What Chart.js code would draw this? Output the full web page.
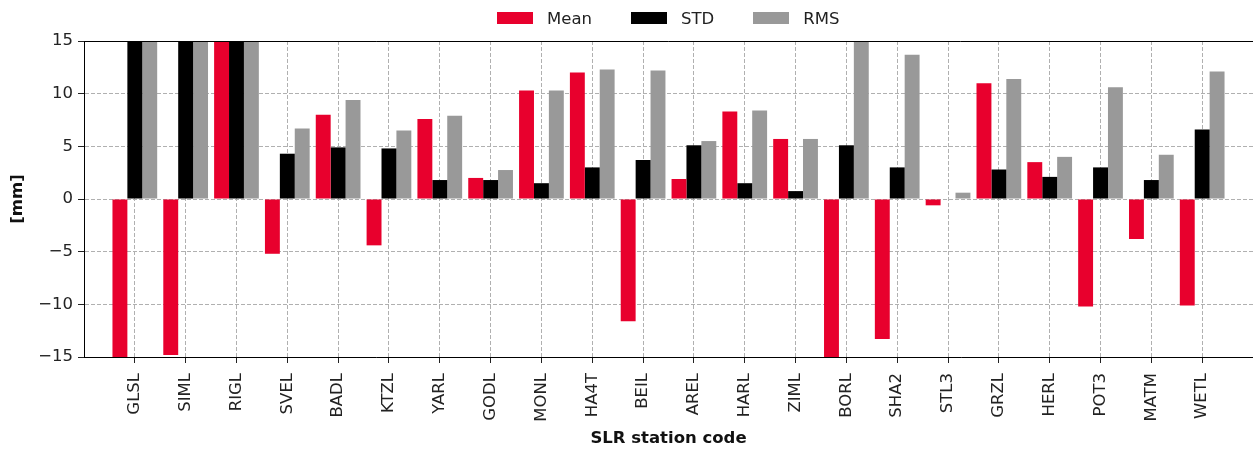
<!DOCTYPE html>
<html>
<head>
<meta charset="utf-8">
<script src="https://cdn.jsdelivr.net/npm/chart.js@4.4.0/dist/chart.umd.min.js"></script>
<style>
    body { margin: 0; background: #fff; }
    #wrap { position: relative; width: 1253px; height: 450px; }
    #legend { position: absolute; left: 497px; top: 8px; display: flex; font: 16.5px 'DejaVu Sans'; color: #222; }
    .item { display: flex; align-items: center; height: 20px; margin-right: 39px; }
    .box { width: 36px; height: 12px; margin-right: 14px; }
</style>
</head>
<body>
<div id="wrap">
    <canvas id="slr-chart" width="1253" height="450"></canvas>
    <div id="legend"></div>
</div>
<script>
var stations = ['GLSL', 'SIML', 'RIGL', 'SVEL', 'BADL', 'KTZL', 'YARL', 'GODL', 'MONL', 'HA4T', 'BEIL',
                'AREL', 'HARL', 'ZIML', 'BORL', 'SHA2', 'STL3', 'GRZL', 'HERL', 'POT3', 'MATM', 'WETL'];
var meanValues = [-15, -14.8, 15, -5.2, 8.0, -4.4, 7.6, 2.0, 10.3, 12.0, -11.6,
                  1.9, 8.3, 5.7, -15, -13.3, -0.6, 11.0, 3.5, -10.2, -3.8, -10.1];
var stdValues = [15, 15, 15, 4.3, 4.9, 4.8, 1.8, 1.8, 1.5, 3.0, 3.7,
                 5.1, 1.5, 0.75, 5.1, 3.0, 0, 2.8, 2.1, 3.0, 1.8, 6.6];
var rmsValues = [15, 15, 15, 6.7, 9.4, 6.5, 7.9, 2.75, 10.3, 12.3, 12.2,
                 5.5, 8.4, 5.7, 15, 13.7, 0.6, 11.4, 4.0, 10.6, 4.2, 12.1];
var yTicks = [-15, -10, -5, 0, 5, 10, 15];
var seriesNames = ['Mean', 'STD', 'RMS'];
var seriesColors = ['#e8002d', '#000000', '#999999'];

// one empty slot on each side so the axis runs half a group past the first/last station
function padded(arr, fill) {
    return [fill].concat(arr, [fill]);
}

var legend = document.getElementById('legend');
seriesNames.forEach(function(name, i) {
    var item = document.createElement('div');
    item.className = 'item';
    var box = document.createElement('span');
    box.className = 'box';
    box.style.background = seriesColors[i];
    var txt = document.createElement('span');
    txt.textContent = name;
    item.appendChild(box);
    item.appendChild(txt);
    legend.appendChild(item);
});

var frameLines = {
    id: 'frameLines',
    afterDatasetsDraw: function(chart) {
        var a = chart.chartArea, ctx = chart.ctx;
        ctx.save();
        ctx.strokeStyle = '#000';
        ctx.lineWidth = 1;
        ctx.beginPath();
        ctx.moveTo(a.left, a.top + 0.5);
        ctx.lineTo(a.right, a.top + 0.5);
        ctx.stroke();
        ctx.restore();
    }
};

var tickFont = { family: 'DejaVu Sans', size: 16.5 };
var titleFont = { family: 'DejaVu Sans', size: 16.5, weight: 'bold' };

new Chart(document.getElementById('slr-chart'), {
    type: 'bar',
    data: {
        labels: padded(stations, ''),
        datasets: [
            { label: seriesNames[0], data: padded(meanValues, null), backgroundColor: seriesColors[0] },
            { label: seriesNames[1], data: padded(stdValues, null), backgroundColor: seriesColors[1] },
            { label: seriesNames[2], data: padded(rmsValues, null), backgroundColor: seriesColors[2] }
        ]
    },
    options: {
        responsive: false,
        animation: false,
        layout: { padding: { top: 41, left: 0, right: 0, bottom: 0 } },
        datasets: {
            bar: { categoryPercentage: 0.88, barPercentage: 1.0, borderWidth: 0 }
        },
        plugins: {
            legend: { display: false },
            tooltip: { enabled: false }
        },
        scales: {
            x: {
                offset: false,
                grid: {
                    offset: false,
                    color: '#b0b0b0',
                    lineWidth: 1,
                    // no tick marks under the empty end slots
                    tickColor: function(ctx) {
                        var last = stations.length + 1;
                        return (ctx.index === 0 || ctx.index === last) ? 'rgba(0,0,0,0)' : '#222';
                    },
                    tickLength: 6,
                    tickBorderDash: []
                },
                border: { display: true, color: '#000', width: 1, dash: [4, 2] },
                ticks: {
                    font: tickFont,
                    color: '#222',
                    maxRotation: 90,
                    minRotation: 90,
                    autoSkip: false,
                    padding: 10
                },
                title: {
                    display: true,
                    text: 'SLR station code',
                    font: titleFont,
                    color: '#111',
                    padding: { top: 2, bottom: 1 }
                },
                afterFit: function(scale) {
                    scale.height = 93;
                    scale.paddingLeft = 0;
                    scale.paddingRight = 0;
                }
            },
            y: {
                min: -15,
                max: 15,
                afterBuildTicks: function(scale) {
                    scale.ticks = yTicks.map(function(v) { return { value: v }; });
                },
                grid: {
                    color: '#b0b0b0',
                    lineWidth: 1,
                    tickColor: '#222',
                    tickLength: 6,
                    tickBorderDash: []
                },
                border: { display: true, color: '#000', width: 1, dash: [4, 2] },
                ticks: {
                    font: tickFont,
                    color: '#222',
                    padding: 5,
                    callback: function(value) {
                        return String(value).replace('-', '\u2212');
                    }
                },
                title: {
                    display: true,
                    text: '[mm]',
                    font: titleFont,
                    color: '#111',
                    padding: { top: 8, bottom: 0 }
                },
                afterFit: function(scale) {
                    scale.width = 84;
                }
            }
        }
    },
    plugins: [frameLines]
});
</script>
</body>
</html>
